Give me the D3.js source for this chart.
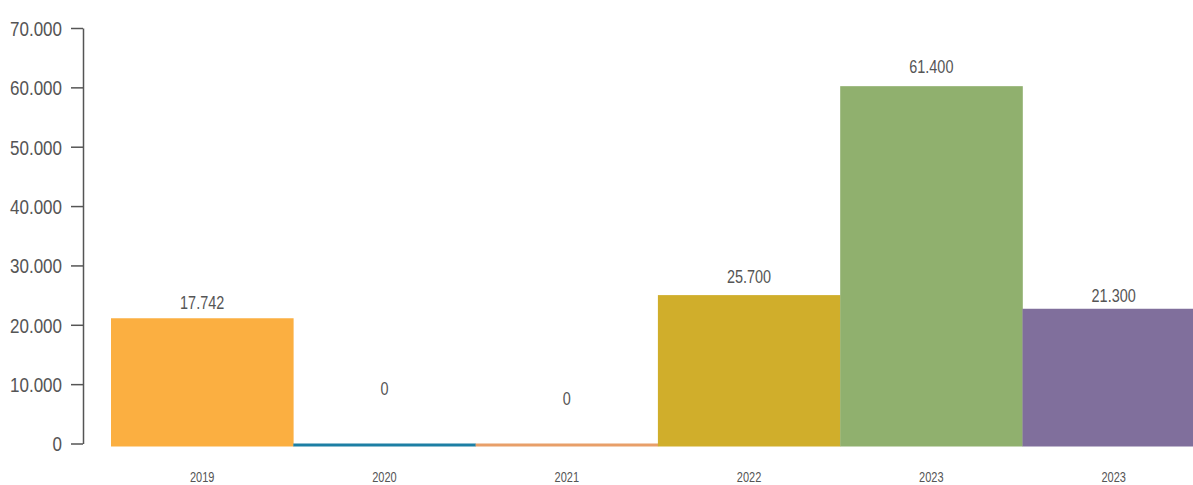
<!DOCTYPE html>
<html>
<head>
<meta charset="utf-8">
<script src="https://cdn.jsdelivr.net/npm/d3@7/dist/d3.min.js"></script>
<style>
  html, body { margin: 0; padding: 0; background: #fff; overflow: hidden; }
  svg { display: block; }
  text { font-family: "Liberation Sans Narrow", "Liberation Sans", Arial, sans-serif; fill: #555; }
</style>
</head>
<body>
<svg id="chart" width="1193" height="485"></svg>
<script>
// ---- data ----
const categories = ["2019", "2020", "2021", "2022", "2023", "2023"];
const barValues = [21100, 0, 0, 25000, 60200, 22700];          // drawn bar heights
const valueLabels = ["17.742", "0", "0", "25.700", "61.400", "21.300"]; // printed labels
const labelAt = [22700, 8200, 6550, 27000, 62500, 23850];       // label baseline level (data units)
const barColors = ["#FBAF41", "#1C7FA4", "#E89F69", "#D0AE2B", "#90B06E", "#806F9C"];
const yTicks = [0, 10000, 20000, 30000, 40000, 50000, 60000, 70000];
const yTickLabels = ["0", "10.000", "20.000", "30.000", "40.000", "50.000", "60.000", "70.000"];

// ---- layout ----
const svg = d3.select("#chart");
const axisX = 83;
const y = d3.scaleLinear().domain([0, 70000]).range([443.5, 28]);
const x = d3.scaleBand()
  .domain(categories.map((d, i) => i))
  .range([111, 111 + 6 * 182.3])
  .padding(0);
const barBase = y(0) + 3;
const narrow = 0.76; // horizontal squeeze to mimic a condensed face

// bars
svg.append("g").selectAll("rect")
  .data(barValues)
  .join("rect")
  .attr("x", (d, i) => x(i))
  .attr("width", x.bandwidth() + 0.3)
  .attr("y", d => y(d))
  .attr("height", d => barBase - y(d))
  .attr("fill", (d, i) => barColors[i]);

// value labels
svg.append("g").selectAll("text")
  .data(valueLabels)
  .join("text")
  .attr("transform", (d, i) => `translate(${x(i) + x.bandwidth() / 2},${y(labelAt[i])}) scale(${narrow},1)`)
  .attr("text-anchor", "middle")
  .style("font-size", "19px")
  .text(d => d);

// category labels
svg.append("g").selectAll("text")
  .data(categories)
  .join("text")
  .attr("transform", (d, i) => `translate(${x(i) + x.bandwidth() / 2},482) scale(${narrow},1)`)
  .attr("text-anchor", "middle")
  .style("font-size", "14.5px")
  .text(d => d);

// y axis
const yAxis = d3.axisLeft(y)
  .tickValues(yTicks)
  .tickFormat((d, i) => yTickLabels[i])
  .tickSize(12)
  .tickPadding(9)
  .tickSizeOuter(0);
const gy = svg.append("g").attr("transform", `translate(${axisX},0)`).call(yAxis);
gy.select(".domain").attr("stroke", "#555").attr("stroke-width", 1.5);
gy.selectAll(".tick line").attr("stroke", "#555").attr("stroke-width", 1.5);
gy.selectAll(".tick text")
  .attr("x", null)
  .attr("dy", "0.35em")
  .attr("transform", "translate(-21,0) scale(0.81,1)")
  .attr("fill", "#555")
  .style("font-size", "21px")
  .style("font-family", '"Liberation Sans Narrow", "Liberation Sans", Arial, sans-serif');
</script>
</body>
</html>
